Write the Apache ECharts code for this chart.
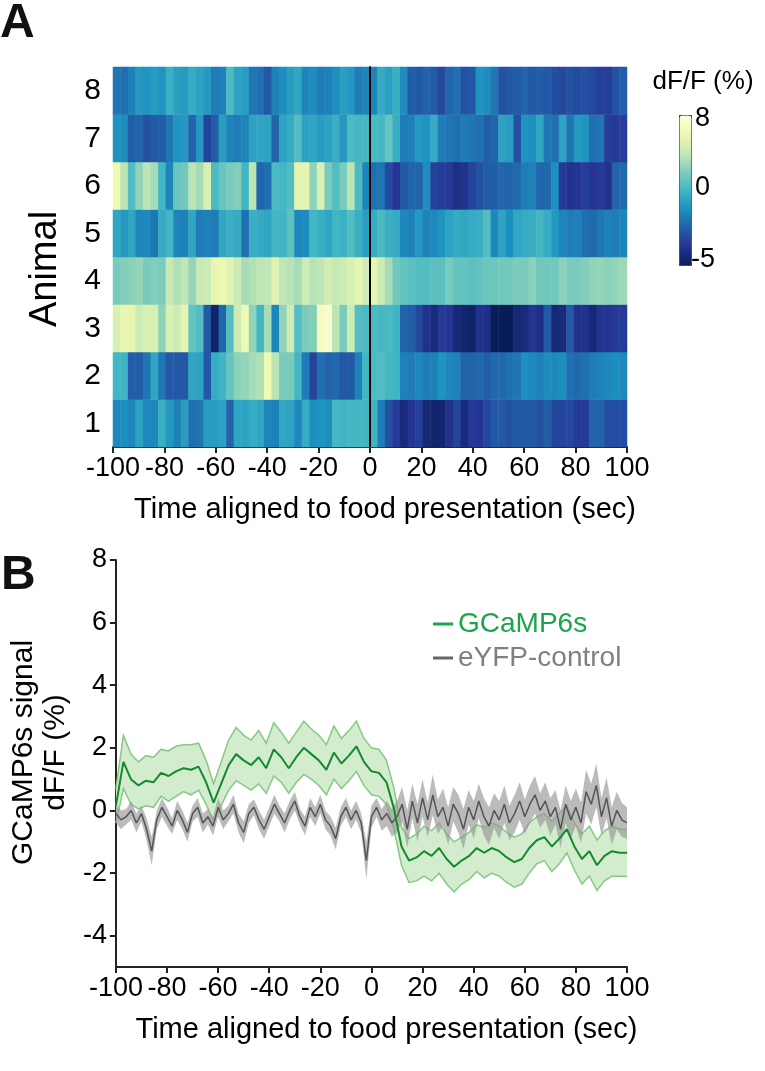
<!DOCTYPE html>
<html>
<head>
<meta charset="utf-8">
<script src="https://cdn.jsdelivr.net/npm/echarts@6/dist/echarts.min.js"></script>
<style>
html,body{margin:0;padding:0;background:#fff;}
#chart{width:765px;height:1071px;}
</style>
</head>
<body>
<div id="chart"></div>
<script>
// ---------- Panel A: heatmap data (68 time bins, -100..100 s) ----------
const animalLabels = ['1','2','3','4','5','6','7','8'];
const animal1 = [-0.4,-0.2,-0.4,0.6,-0.4,-0.4,1.2,0.2,-0.6,0.4,-1.2,-1.0,0.4,0.4,0.6,-1.6,0.8,0.6,1.0,0.8,-0.5,-0.6,0.8,0.6,-0.4,1.0,-0.2,0.0,-0.2,1.6,1.4,1.6,1.6,1.5,
  1.4,-0.8,-2.2,-3.2,-4.0,-3.4,-3.0,-4.2,-4.4,-4.4,-3.6,-2.8,-4.0,-3.2,-3.4,-2.6,-2.0,-2.0,-2.2,-2.0,-2.0,-2.0,-2.2,-1.8,-2.8,-2.8,-2.6,-3.2,-3.2,-1.6,-1.6,-2.4,-2.4,-2.4];
const animal2 = [1.5,1.4,-1.8,-1.8,-1.0,0.8,-1.0,-2.0,-2.0,-2.0,0.8,0.6,-2.0,1.0,1.4,2.5,3.4,3.6,4.0,4.2,6.5,4.5,3.0,3.0,1.6,-0.8,-2.8,-1.2,-1.6,-1.4,-2.0,-2.0,-0.6,1.5,
  1.8,2.0,1.6,1.4,-0.6,-0.8,-0.4,-0.8,-0.6,0.0,-0.4,-0.6,-1.6,-1.6,-1.4,-1.8,-1.4,-1.4,-1.2,-1.0,-0.2,-0.4,-0.6,-0.3,-0.4,-0.2,-1.2,-1.4,-1.2,-0.8,-0.6,-0.4,-0.2,-0.4];
const animal3 = [5.5,6.2,6.2,5.0,5.6,5.4,3.5,5.5,5.0,6.0,2.4,2.0,-2.0,-4.5,-1.5,2.0,5.0,6.5,3.5,1.5,4.0,-0.5,3.5,5.0,2.0,3.0,3.2,7.0,7.5,4.5,3.0,5.0,2.0,1.8,
  1.8,1.6,1.8,1.4,-1.6,-1.8,-2.6,-3.6,-4.0,-3.2,-3.4,-4.2,-4.4,-4.6,-3.6,-3.8,-5.0,-5.0,-5.0,-4.2,-4.0,-3.4,-3.8,-2.0,-4.2,-4.0,-2.0,-3.6,-3.6,-4.2,-3.4,-3.4,-3.2,-3.2];
const animal4 = [3.0,3.2,3.4,3.6,3.0,3.2,3.0,4.8,4.2,4.6,3.6,4.8,5.0,6.2,6.4,5.8,5.0,4.0,4.2,4.6,4.6,5.8,4.6,4.4,4.0,5.0,4.4,4.6,5.2,4.8,5.0,5.4,6.0,5.2,
  6.0,5.0,4.0,2.8,2.4,2.2,2.0,2.0,2.2,2.2,3.0,2.4,2.4,2.2,2.4,2.6,2.6,2.8,2.8,3.0,3.0,3.4,2.8,2.8,2.8,3.4,3.0,3.0,3.2,3.5,3.6,3.4,3.6,3.8];
const animal5 = [0.8,0.2,0.8,-0.5,-0.4,-1.0,1.0,1.5,-0.5,-0.6,0.8,-0.8,-0.6,-0.8,0.8,1.2,1.0,-1.2,1.2,1.0,0.8,1.6,1.4,2.2,-0.4,-0.3,1.5,1.2,0.8,1.5,1.3,2.0,1.2,0.4,
  1.0,1.8,1.2,1.0,-0.4,-0.6,0.2,-0.6,-0.4,0.0,0.6,1.0,0.8,1.0,1.2,2.0,-0.4,0.6,-0.2,0.8,1.0,1.2,1.6,1.0,0.2,-0.5,-0.8,-0.6,-1.2,-1.4,-1.0,-0.6,-0.8,-0.5];
const animal6 = [6.5,4.5,2.0,3.5,4.5,4.0,1.5,-0.5,2.5,2.8,4.5,4.0,5.5,1.8,2.5,3.0,3.2,1.5,4.5,-1.5,-1.2,1.8,1.5,2.0,6.0,6.0,3.5,5.5,3.0,2.0,3.0,4.5,1.8,-0.5,
  -1.2,-1.0,-2.5,-3.4,-2.0,-1.5,-1.6,-0.3,-2.8,-3.0,-3.2,-3.8,-3.6,-2.8,-2.2,-1.8,-1.8,-1.5,-1.6,-1.4,-0.8,-0.6,-1.5,-1.4,-0.2,-3.2,-3.6,-3.4,-3.0,-3.4,-3.2,-3.6,-1.6,-1.4];
const animal7 = [0.0,-0.3,-1.8,-1.6,-2.2,-1.9,-1.8,-1.0,0.0,0.2,-1.6,0.2,-2.8,-1.8,0.4,-0.6,-0.8,-0.5,0.6,0.8,0.6,-1.6,0.6,1.0,2.0,0.6,0.8,0.4,0.6,1.2,0.2,1.8,1.6,1.6,
  1.8,1.6,2.5,1.2,-0.8,-0.6,0.2,0.0,1.0,-0.8,-1.0,-1.2,-0.8,-1.0,-1.2,-1.8,-1.5,0.6,0.4,-2.2,0.0,-0.2,0.8,-1.0,-1.2,0.6,-1.0,0.2,0.0,-1.2,-1.0,-3.0,-3.2,-3.0];
const animal8 = [-1.0,-1.2,-0.6,0.2,0.0,0.3,0.0,1.2,0.5,0.3,1.0,0.6,0.2,-0.8,-0.6,1.8,0.6,0.4,-1.0,-1.2,-2.0,-0.6,-0.2,0.4,0.8,-0.5,-0.3,-0.8,-0.6,-0.2,0.5,0.2,-0.8,-0.5,
  -0.5,1.0,0.5,1.2,-0.3,-1.8,-2.0,-1.6,-2.0,-2.6,-1.5,-1.2,-2.2,-2.0,0.0,-0.3,-1.0,-2.2,-2.0,-1.8,-1.6,-2.0,-1.8,-2.0,-2.4,-2.6,-2.2,-2.5,-2.3,-2.6,-3.0,-3.0,-2.2,-1.8];
const heatRows = [animal1, animal2, animal3, animal4, animal5, animal6, animal7, animal8];
const colorbarLabels = ['8', '0', '-5'];

// ---------- Panel B: traces ----------
// GCaMP6s mean and SEM (69 points, -100..100 s)
const gcampMean = [0.15,1.55,1.0,0.8,0.95,0.9,1.2,1.1,1.25,1.35,
  1.3,1.4,0.9,0.25,0.85,1.45,1.8,1.6,1.45,1.7,
  1.35,1.95,1.7,1.35,1.7,2.0,1.8,1.6,1.3,1.85,
  1.5,1.75,2.05,1.55,1.25,1.2,0.9,0.05,-1.15,-1.6,
  -1.5,-1.3,-1.45,-1.2,-1.55,-1.8,-1.6,-1.45,-1.2,-1.35,
  -1.2,-1.3,-1.5,-1.65,-1.55,-1.2,-0.95,-0.85,-1.15,-0.9,
  -0.6,-1.15,-1.55,-1.3,-1.75,-1.45,-1.3,-1.35,-1.35];
const gcampSem = [0.55,0.85,0.8,0.75,0.8,0.8,0.75,0.8,0.8,0.75,
  0.8,0.75,0.7,0.6,0.7,0.8,0.85,0.8,0.8,0.85,
  0.8,0.85,0.8,0.8,0.8,0.85,0.8,0.8,0.8,0.85,
  0.8,0.8,0.8,0.75,0.75,0.75,0.7,0.65,0.6,0.7,
  0.75,0.8,0.8,0.8,0.8,0.8,0.75,0.75,0.75,0.8,
  0.8,0.8,0.8,0.8,0.8,0.8,0.75,0.75,0.8,0.8,
  0.75,0.75,0.8,0.8,0.8,0.8,0.8,0.75,0.75];
// eYFP-control mean and SEM (101 points, every 2 s)
const eyfpMean = [-0.1,-0.3,-0.2,0.0,-0.4,-0.1,-0.6,-1.3,-0.3,0.1,
  -0.2,-0.5,0.0,-0.3,-0.7,-0.1,0.1,-0.4,-0.2,-0.5,
  0.1,-0.3,-0.1,0.2,-0.4,-0.7,-0.1,0.1,-0.3,-0.6,
  -0.2,0.2,-0.1,-0.4,0.0,0.3,-0.2,-0.5,0.1,-0.2,
  0.2,-0.3,-0.5,-0.9,-0.2,0.1,-0.3,0.0,-0.4,-1.6,
  -0.2,0.1,-0.3,-0.1,-0.4,-0.2,0.2,-0.6,0.3,-0.4,
  0.4,-0.3,0.5,-0.2,0.1,-0.5,0.2,-0.1,-0.6,0.1,
  -0.3,0.3,-0.2,-0.5,0.0,-0.3,0.2,-0.4,-0.1,0.3,
  -0.2,0.2,0.5,0.0,0.3,-0.2,0.1,-0.6,0.2,-0.3,
  0.1,-0.4,0.6,0.2,0.8,-0.2,0.4,-0.5,0.0,-0.3,
  -0.4];
const eyfpSem = [0.3,0.3,0.25,0.3,0.3,0.25,0.35,0.45,0.3,0.3,
  0.3,0.25,0.3,0.3,0.3,0.25,0.3,0.3,0.25,0.3,
  0.3,0.3,0.25,0.3,0.3,0.35,0.3,0.25,0.3,0.3,
  0.3,0.3,0.25,0.3,0.3,0.3,0.25,0.3,0.3,0.3,
  0.3,0.3,0.3,0.35,0.3,0.3,0.3,0.3,0.3,0.6,
  0.35,0.3,0.35,0.4,0.45,0.5,0.55,0.6,0.55,0.6,
  0.6,0.55,0.65,0.55,0.6,0.6,0.55,0.6,0.65,0.55,
  0.6,0.55,0.6,0.6,0.55,0.6,0.6,0.55,0.6,0.6,
  0.55,0.6,0.6,0.55,0.6,0.6,0.55,0.6,0.6,0.6,
  0.6,0.65,0.7,0.65,0.7,0.6,0.65,0.6,0.6,0.55,
  0.5];
const yTicksB = [-4,-2,0,2,4,6,8];

// ---------- build ----------
const FONT = '"Liberation Sans", Arial, Helvetica, sans-serif';
const binIdx = heatRows[0].map((_, i) => i);
const heatData = [];
heatRows.forEach((row, r) => row.forEach((v, c) => heatData.push([c, r, v])));
const gcampT = gcampMean.map((_, i) => -100 + i * 200 / (gcampMean.length - 1));
const eyfpT = eyfpMean.map((_, i) => -100 + i * 200 / (eyfpMean.length - 1));

function band(t, m, s, fill, stroke, lw) {
  return function (params, api) {
    if (params.dataIndex !== 0) return;
    const up = [], lo = [];
    for (let i = 0; i < t.length; i++) {
      up.push(api.coord([t[i], m[i] + s[i]]));
      lo.push(api.coord([t[i], m[i] - s[i]]));
    }
    const ch = [{type: 'polygon', shape: {points: up.concat(lo.slice().reverse())}, style: {fill: fill, stroke: null}}];
    if (stroke) {
      ch.push({type: 'polyline', shape: {points: up}, style: {stroke: stroke, lineWidth: lw, fill: null}});
      ch.push({type: 'polyline', shape: {points: lo}, style: {stroke: stroke, lineWidth: lw, fill: null}});
    }
    return {type: 'group', children: ch};
  };
}

const axisCol = '#222';
const xAxisValue = (gi) => ({
  type: 'value', gridIndex: gi, min: -100, max: 100, interval: 20, position: 'bottom',
  axisLine: {show: true, onZero: false, lineStyle: {color: axisCol, width: 2}},
  axisTick: {show: true, length: 6, lineStyle: {color: axisCol, width: 2}},
  axisLabel: {fontSize: 27, color: '#000', margin: 8, fontFamily: FONT},
  splitLine: {show: false},
  name: 'Time aligned to food presentation (sec)', nameLocation: 'middle', nameGap: 48,
  nameTextStyle: {fontSize: 29, color: '#000', fontFamily: FONT, padding: [0, 0, 0, 30]}
});

const option = {
  animation: false,
  backgroundColor: '#fff',
  textStyle: {fontFamily: FONT},
  grid: [
    {left: 113, top: 67, width: 514, height: 380},
    {left: 113, top: 560, width: 514, height: 407}
  ],
  xAxis: [
    {type: 'category', gridIndex: 0, data: binIdx, show: false},
    xAxisValue(0),
    xAxisValue(1)
  ],
  yAxis: [
    {type: 'category', gridIndex: 0, data: animalLabels,
     axisLine: {lineStyle: {color: axisCol, width: 2}},
     axisTick: {length: 7, lineStyle: {color: axisCol, width: 2}},
     axisLabel: {fontSize: 30, color: '#000', margin: 12},
     name: 'Animal', nameLocation: 'middle', nameGap: 48,
     nameTextStyle: {fontSize: 38, color: '#000', padding: [0, 24, 0, 0]}},
    {type: 'value', gridIndex: 0, min: 0, max: 1, show: false},
    {type: 'value', gridIndex: 1, min: -5, max: 8,
     axisLine: {show: true, onZero: false, lineStyle: {color: axisCol, width: 2}},
     axisTick: {show: true, length: 6, customValues: yTicksB, lineStyle: {color: axisCol, width: 2}},
     axisLabel: {fontSize: 27, color: '#000', margin: 9, customValues: yTicksB},
     splitLine: {show: false},
     name: 'GCaMP6s signal\ndF/F (%)', nameLocation: 'middle', nameGap: 40,
     nameTextStyle: {fontSize: 30, lineHeight: 32, color: '#000', padding: [0, 0, 0, 22]}}
  ],
  visualMap: {
    type: 'continuous', min: -5, max: 8, seriesIndex: 0, calculable: false, hoverLink: false,
    orient: 'vertical', left: 679, top: 115, itemWidth: 12, itemHeight: 150,
    text: null, padding: 0, borderColor: '#333', borderWidth: 1,
    inRange: {color: ['#081d58','#253494','#225ea8','#1d91c0','#41b6c4','#7fcdbb','#c7e9b4','#edf8b1','#ffffd9']}
  },
  legend: {
    orient: 'vertical', left: 428, top: 605, itemWidth: 20, itemHeight: 3, itemGap: 6, icon: 'rect',
    textStyle: {fontSize: 28, fontFamily: FONT},
    data: [
      {name: 'GCaMP6s', textStyle: {color: '#1aa64a'}, itemStyle: {color: '#1aa64a'}},
      {name: 'eYFP-control', textStyle: {color: '#808080'}, itemStyle: {color: '#666666'}}
    ],
    selectedMode: false
  },
  series: [
    {type: 'heatmap', xAxisIndex: 0, yAxisIndex: 0, data: heatData, emphasis: {disabled: true}, silent: true},
    {type: 'line', xAxisIndex: 1, yAxisIndex: 1, data: [[0, 0], [0, 1]], showSymbol: false, silent: true,
     lineStyle: {color: '#000', width: 2}, z: 5},
    {type: 'custom', name: 'gcampBand', xAxisIndex: 2, yAxisIndex: 2, data: [[0, 0]], silent: true, z: 1,
     renderItem: band(gcampT, gcampMean, gcampSem, '#d4ecce', '#86c986', 1.5)},
    {type: 'custom', name: 'eyfpBand', xAxisIndex: 2, yAxisIndex: 2, data: [[0, 0]], silent: true, z: 2,
     renderItem: band(eyfpT, eyfpMean, eyfpSem, 'rgba(150,150,150,0.65)', null, 0)},
    {type: 'line', name: 'eYFP-control', xAxisIndex: 2, yAxisIndex: 2, z: 3,
     data: eyfpT.map((t, i) => [t, eyfpMean[i]]), showSymbol: false,
     lineStyle: {color: '#555555', width: 1.5}, itemStyle: {color: '#555555'}},
    {type: 'line', name: 'GCaMP6s', xAxisIndex: 2, yAxisIndex: 2, z: 4,
     data: gcampT.map((t, i) => [t, gcampMean[i]]), showSymbol: false,
     lineStyle: {color: '#138a2e', width: 2}, itemStyle: {color: '#138a2e'}}
  ],
  graphic: [
    {type: 'text', left: 0, top: 0, style: {text: 'A', font: 'bold 48px ' + FONT, fill: '#111'}},
    {type: 'text', left: 1, top: 552, style: {text: 'B', font: 'bold 48px ' + FONT, fill: '#111'}},
    {type: 'text', x: 703, y: 82, style: {text: 'dF/F (%)', font: '26px ' + FONT, fill: '#000', align: 'center', verticalAlign: 'middle'}},
    {type: 'text', x: 695, y: 119, style: {text: colorbarLabels[0], font: '27px ' + FONT, fill: '#000', verticalAlign: 'middle'}},
    {type: 'text', x: 695, y: 188, style: {text: colorbarLabels[1], font: '27px ' + FONT, fill: '#000', verticalAlign: 'middle'}},
    {type: 'text', x: 691, y: 260, style: {text: colorbarLabels[2], font: '27px ' + FONT, fill: '#000', verticalAlign: 'middle'}}
  ]
};

const chart = echarts.init(document.getElementById('chart'), null, {renderer: 'canvas'});
chart.setOption(option);
</script>
</body>
</html>
